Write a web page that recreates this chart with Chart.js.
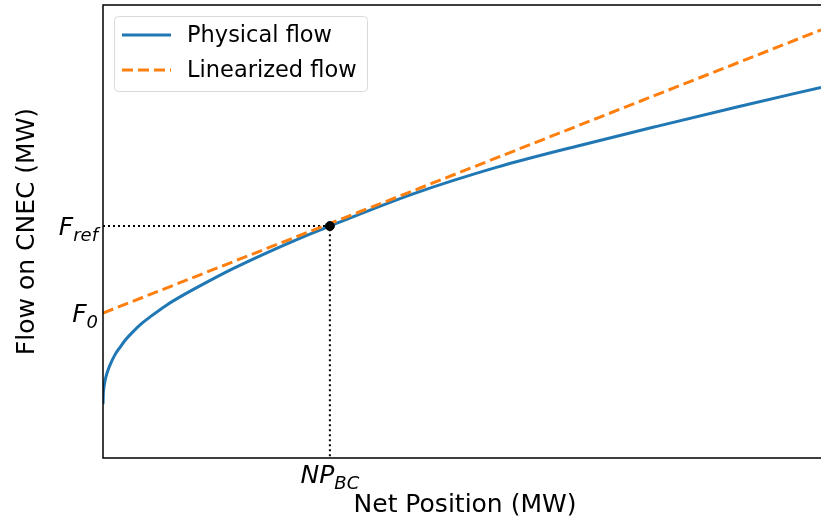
<!DOCTYPE html>
<html>
<head>
<meta charset="utf-8">
<script src="https://cdn.jsdelivr.net/npm/chart.js@4.4.0/dist/chart.umd.min.js"></script>
<style>
  html, body { margin: 0; padding: 0; background: #fff; }
  canvas { display: block; }
</style>
</head>
<body>
<canvas id="chart" width="821" height="521"></canvas>
<script>
// Flux physique sur le CNEC (unités arbitraires, NP de 0 à 10)
const netPosition = [0, 0.005, 0.012, 0.03, 0.055, 0.10, 0.16, 0.24, 0.32, 0.42, 0.54, 0.66, 0.89, 1.11, 1.35, 1.81, 2.28, 2.74, 3.16, 4.32, 5.49, 6.64, 7.66, 8.83, 10];
const physicalFlow = [1.19, 1.44, 1.55, 1.72, 1.87, 2.06, 2.26, 2.45, 2.62, 2.79, 2.97, 3.12, 3.38, 3.59, 3.80, 4.18, 4.53, 4.85, 5.12, 5.83, 6.42, 6.90, 7.30, 7.75, 8.18];

// Flux linéarisé (tangente au point de base)
const linearX = [0, 10];
const linearFlow = [3.20, 9.45];

// Point de base
const npBC = 3.16;
const fRef = 5.12;
const f0 = 3.20;

// Graduations : [texte, indice]
const yTickValues = [fRef, f0];
const yTickLabels = [['F', 'ref'], ['F', '0']];
const xTickValues = [npBC];
const xTickLabels = [['NP', 'BC']];

const legendLabels = ['Physical flow', 'Linearized flow'];
const xTitle = 'Net Position (MW)';
const yTitle = 'Flow on CNEC (MW)';

const BLUE = '#1f77b4';
const ORANGE = '#ff7f0e';
const FONT = '"DejaVu Sans", sans-serif';

function toPoints(xs, ys) {
    return xs.map((x, i) => ({ x: x, y: ys[i] }));
}

// Texte avec indice façon mathtext
function drawSubLabel(ctx, parts, x, y, align, size) {
    const subSize = Math.round(size * 0.7);
    ctx.font = 'italic ' + size + 'px ' + FONT;
    const wMain = ctx.measureText(parts[0]).width;
    ctx.font = 'italic ' + subSize + 'px ' + FONT;
    const wSub = ctx.measureText(parts[1]).width;
    let start = x;
    if (align === 'right') start = x - wMain - wSub;
    if (align === 'center') start = x - (wMain + wSub) / 2;
    ctx.textAlign = 'left';
    ctx.textBaseline = 'alphabetic';
    ctx.font = 'italic ' + size + 'px ' + FONT;
    ctx.fillText(parts[0], start, y);
    ctx.font = 'italic ' + subSize + 'px ' + FONT;
    ctx.fillText(parts[1], start + wMain, y + size * 0.22);
}

const decorPlugin = {
    id: 'decor',
    afterDatasetsDraw(chart) {
        const ctx = chart.ctx;
        const area = chart.chartArea;
        const xs = chart.scales.x;
        const ys = chart.scales.y;
        ctx.save();

        // cadre (gauche, haut, bas)
        ctx.strokeStyle = '#000';
        ctx.lineWidth = 1.5;
        ctx.beginPath();
        ctx.moveTo(area.right + 2, area.top);
        ctx.lineTo(area.left, area.top);
        ctx.lineTo(area.left, area.bottom);
        ctx.lineTo(area.right + 2, area.bottom);
        ctx.stroke();

        ctx.fillStyle = '#000';
        yTickValues.forEach((v, i) => {
            drawSubLabel(ctx, yTickLabels[i], area.left - 5, ys.getPixelForValue(v) + 9, 'right', 25);
        });
        xTickValues.forEach((v, i) => {
            drawSubLabel(ctx, xTickLabels[i], xs.getPixelForValue(v), area.bottom + 25, 'center', 25);
        });

        // titres des axes
        ctx.font = '25px ' + FONT;
        ctx.textAlign = 'center';
        ctx.textBaseline = 'alphabetic';
        ctx.fillText(xTitle, (area.left + area.right) / 2 + 3, 512);
        ctx.translate(34, (area.top + area.bottom) / 2);
        ctx.rotate(-Math.PI / 2);
        ctx.fillText(yTitle, 0, 0);
        ctx.restore();

        // légende
        ctx.save();
        ctx.beginPath();
        ctx.roundRect(114.5, 16.5, 253, 75, 4);
        ctx.fillStyle = 'rgba(255,255,255,0.8)';
        ctx.fill();
        ctx.strokeStyle = '#dadada';
        ctx.lineWidth = 1;
        ctx.stroke();

        const rows = [35, 70];
        ctx.lineWidth = 3;
        ctx.strokeStyle = BLUE;
        ctx.beginPath();
        ctx.moveTo(122, rows[0]);
        ctx.lineTo(171, rows[0]);
        ctx.stroke();
        ctx.strokeStyle = ORANGE;
        ctx.setLineDash([11, 5]);
        ctx.beginPath();
        ctx.moveTo(122, rows[1]);
        ctx.lineTo(171, rows[1]);
        ctx.stroke();
        ctx.setLineDash([]);

        ctx.fillStyle = '#000';
        ctx.font = '22.5px ' + FONT;
        ctx.textAlign = 'left';
        ctx.textBaseline = 'middle';
        legendLabels.forEach((t, i) => ctx.fillText(t, 187, rows[i] + 1));
        ctx.restore();
    }
};

const chart = new Chart(document.getElementById('chart'), {
    type: 'scatter',
    data: {
        datasets: [
            {
                label: 'base',
                data: [{ x: npBC, y: fRef }],
                backgroundColor: '#000',
                borderColor: '#000',
                pointRadius: 4.5
            },
            {
                label: legendLabels[1],
                data: toPoints(linearX, linearFlow),
                showLine: true,
                borderColor: ORANGE,
                borderWidth: 3,
                borderDash: [11, 5],
                pointRadius: 0
            },
            {
                label: legendLabels[0],
                data: toPoints(netPosition, physicalFlow),
                showLine: true,
                borderColor: BLUE,
                borderWidth: 3,
                cubicInterpolationMode: 'monotone',
                pointRadius: 0
            },
            {
                label: 'guides',
                data: [{ x: 0, y: fRef }, { x: npBC, y: fRef }, { x: npBC, y: 0 }],
                showLine: true,
                borderColor: '#000',
                borderWidth: 2,
                borderDash: [2, 3],
                pointRadius: 0
            }
        ]
    },
    options: {
        responsive: false,
        animation: false,
        layout: { autoPadding: false, padding: { left: 103, top: 5, right: 0, bottom: 63 } },
        scales: {
            x: { type: 'linear', min: 0, max: 10, display: false },
            y: { type: 'linear', min: 0, max: 10, display: false }
        },
        plugins: {
            legend: { display: false },
            tooltip: { enabled: false }
        }
    },
    plugins: [decorPlugin]
});
</script>
</body>
</html>
